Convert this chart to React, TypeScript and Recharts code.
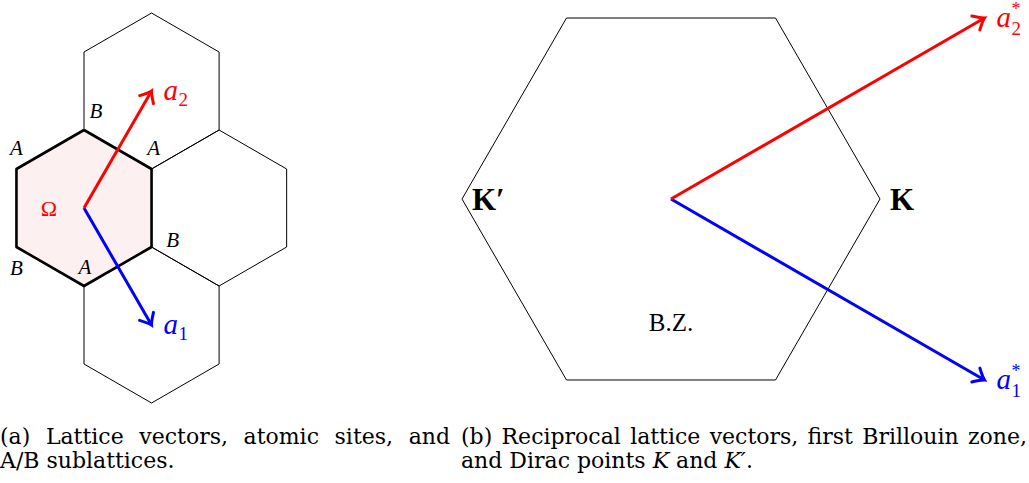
import React from 'react';
import { ComposedChart, Line, Area, Scatter, XAxis, YAxis } from 'recharts';

// unit: hexagon circumradius (left) / distance Γ→K (right)
const POINTY_HEX = [[0, 1], [0.866, 0.5], [0.866, -0.5], [0, -1], [-0.866, -0.5], [-0.866, 0.5]];
const CENTRAL_CELL = [0, 0];
const NEIGHBOUR_CELLS = [[0.866, 1.5], [1.732, 0], [0.866, -1.5]];
const SITE_TYPES = ['B', 'A', 'B', 'A', 'B', 'A'];
const LATTICE_VECTORS = [
  { name: '1', x: 0.866, y: -1.5 },
  { name: '2', x: 0.866, y: 1.5 },
];

const FLAT_HEX = [[1, 0], [0.5, 0.866], [-0.5, 0.866], [-1, 0], [-0.5, -0.866], [0.5, -0.866]];
const RECIPROCAL_VECTORS = [
  { name: '1', x: 1.5, y: -0.866 },
  { name: '2', x: 1.5, y: 0.866 },
];
const DIRAC_POINTS = [
  { name: 'K', x: 1, y: 0 },
  { name: 'K′', x: -1, y: 0 },
];
const ZONE_LABEL = [{ name: 'B.Z.', x: 0, y: -0.59 }];

const CAPTION_A = ['(a) Lattice vectors, atomic sites, and', 'A/B sublattices.'];
const CAPTION_B = ['(b) Reciprocal lattice vectors, first Brillouin zone,', 'and Dirac points '];

// pixel offsets of site letters from their corner
const SITE_OFFSETS = [[12, -19], [2, -21], [21, -7], [1, -19], [0, 21], [0, -21]];

const SERIF = '"Liberation Serif", "DejaVu Serif", serif';
const CAPTION_FONT = '"DejaVu Serif", "Liberation Serif", serif';
const RED = '#ff0000';
const BLUE = '#0000ff';

const polygon = (center: number[], corners: number[][]) =>
  [...corners, corners[0]].map(([dx, dy]) => ({ x: center[0] + dx, y: center[1] + dy }));

const arrowDot = (vx: number, vy: number, color: string) => (props: any) => {
  const { cx, cy, index } = props;
  if (index !== 1) return <g key={`d${index}`} />;
  const angle = (Math.atan2(-vy, vx) * 180) / Math.PI;
  return (
    <path
      key={`d${index}`}
      d="M -10 -8 Q -3 -1.5 0 0 Q -3 1.5 -10 8"
      transform={`translate(${cx},${cy}) rotate(${angle})`}
      fill="none"
      stroke={color}
      strokeWidth={3}
      strokeLinecap="round"
    />
  );
};

const vecLabel = (color: string, star: boolean) => (p: any) => {
  const x = p.cx + 12;
  const y = p.cy;
  return (
    <g>
      <text x={x} y={y + 9} fill={color} fontFamily={SERIF} fontStyle="italic" fontSize={29}>a</text>
      {star && <text x={x + 15} y={y - 3} fill={color} fontFamily={SERIF} fontSize={18}>*</text>}
      <text x={x + 15} y={y + (star ? 17 : 15)} fill={color} fontFamily={SERIF} fontSize={19}>
        {p.payload.name}
      </text>
    </g>
  );
};

function LatticePanel() {
  const scale = 78;
  const ox = 84;
  const oy = 208;
  const width = 300;
  const height = 410;
  const fill = [
    { x: POINTY_HEX[5][0], y: [POINTY_HEX[4][1], POINTY_HEX[5][1]] },
    { x: POINTY_HEX[0][0], y: [POINTY_HEX[3][1], POINTY_HEX[0][1]] },
    { x: POINTY_HEX[1][0], y: [POINTY_HEX[2][1], POINTY_HEX[1][1]] },
  ];
  const sites = POINTY_HEX.map(([x, y], i) => ({ x, y, site: SITE_TYPES[i], i }));
  const origin = [{ x: CENTRAL_CELL[0], y: CENTRAL_CELL[1] }];

  return (
    <ComposedChart
      width={width}
      height={height}
      margin={{ top: 0, right: 0, bottom: 0, left: 0 }}
      style={{ position: 'absolute', left: 0, top: 0 }}
    >
      <XAxis type="number" dataKey="x" hide domain={[-ox / scale, (width - ox) / scale]} allowDataOverflow />
      <YAxis type="number" dataKey="y" hide domain={[(oy - height) / scale, oy / scale]} allowDataOverflow />
      <Area data={fill} dataKey="y" type="linear" fill="#fdf0f0" fillOpacity={1} stroke="none" isAnimationActive={false} activeDot={false} />
      {NEIGHBOUR_CELLS.map((c, i) => (
        <Line key={`n${i}`} data={polygon(c, POINTY_HEX)} dataKey="y" type="linear" stroke="#000" strokeWidth={1} dot={false} activeDot={false} isAnimationActive={false} />
      ))}
      <Line data={polygon(CENTRAL_CELL, POINTY_HEX)} dataKey="y" type="linear" stroke="#000" strokeWidth={2.6} strokeLinejoin="round" dot={false} activeDot={false} isAnimationActive={false} />
      {LATTICE_VECTORS.map((v) => {
        const color = v.name === '1' ? BLUE : RED;
        return (
          <Line key={`v${v.name}`} data={[{ x: 0, y: 0 }, { x: v.x, y: v.y }]} dataKey="y" type="linear" stroke={color} strokeWidth={3} dot={arrowDot(v.x, v.y, color)} activeDot={false} isAnimationActive={false} />
        );
      })}
      {LATTICE_VECTORS.map((v) => (
        <Scatter key={`l${v.name}`} data={[v]} isAnimationActive={false} shape={vecLabel(v.name === '1' ? BLUE : RED, false)} />
      ))}
      <Scatter
        data={sites}
        isAnimationActive={false}
        shape={(p: any) => (
          <text
            x={p.cx + SITE_OFFSETS[p.payload.i][0]}
            y={p.cy + SITE_OFFSETS[p.payload.i][1]}
            textAnchor="middle"
            dominantBaseline="central"
            fontFamily={SERIF}
            fontStyle="italic"
            fontSize={21}
            fill="#000"
          >
            {p.payload.site}
          </text>
        )}
      />
      <Scatter
        data={origin}
        isAnimationActive={false}
        shape={(p: any) => (
          <text x={p.cx - 27} y={p.cy} textAnchor="end" dominantBaseline="central" fontFamily={SERIF} fontSize={22} fill={RED}>
            Ω
          </text>
        )}
      />
    </ComposedChart>
  );
}

function ZonePanel() {
  const scale = 209;
  const left = 430;
  const ox = 671 - left;
  const oy = 199;
  const width = 599;
  const height = 410;

  return (
    <ComposedChart
      width={width}
      height={height}
      margin={{ top: 0, right: 0, bottom: 0, left: 0 }}
      style={{ position: 'absolute', left, top: 0 }}
    >
      <XAxis type="number" dataKey="x" hide domain={[-ox / scale, (width - ox) / scale]} allowDataOverflow />
      <YAxis type="number" dataKey="y" hide domain={[(oy - height) / scale, oy / scale]} allowDataOverflow />
      <Line data={polygon([0, 0], FLAT_HEX)} dataKey="y" type="linear" stroke="#000" strokeWidth={1} dot={false} activeDot={false} isAnimationActive={false} />
      {RECIPROCAL_VECTORS.map((v) => {
        const color = v.name === '1' ? BLUE : RED;
        return (
          <Line key={`v${v.name}`} data={[{ x: 0, y: 0 }, { x: v.x, y: v.y }]} dataKey="y" type="linear" stroke={color} strokeWidth={3} dot={arrowDot(v.x, v.y, color)} activeDot={false} isAnimationActive={false} />
        );
      })}
      {RECIPROCAL_VECTORS.map((v) => (
        <Scatter key={`l${v.name}`} data={[v]} isAnimationActive={false} shape={vecLabel(v.name === '1' ? BLUE : RED, true)} />
      ))}
      <Scatter
        data={DIRAC_POINTS}
        isAnimationActive={false}
        shape={(p: any) => (
          <text x={p.cx + 10} y={p.cy} dominantBaseline="central" fontFamily={SERIF} fontWeight="bold" fontSize={31} fill="#000">
            {p.payload.name}
          </text>
        )}
      />
      <Scatter
        data={ZONE_LABEL}
        isAnimationActive={false}
        shape={(p: any) => (
          <text x={p.cx} y={p.cy} textAnchor="middle" dominantBaseline="central" fontFamily={SERIF} fontSize={25} fill="#000">
            {p.payload.name}
          </text>
        )}
      />
    </ComposedChart>
  );
}

const captionStyle: React.CSSProperties = {
  position: 'absolute',
  fontFamily: CAPTION_FONT,
  fontSize: 22,
  lineHeight: '24px',
  color: '#000',
};

export default function App() {
  return (
    <div style={{ position: 'absolute', left: 0, top: 0, width: 1029, height: 483, background: '#fff' }}>
      <LatticePanel />
      <ZonePanel />
      <div style={{ ...captionStyle, left: 0, top: 425, width: 450 }}>
        <div style={{ textAlign: 'justify', textAlignLast: 'justify' }}>{CAPTION_A[0]}</div>
        <div>{CAPTION_A[1]}</div>
      </div>
      <div style={{ ...captionStyle, left: 461, top: 425, width: 566 }}>
        <div style={{ textAlign: 'justify', textAlignLast: 'justify' }}>{CAPTION_B[0]}</div>
        <div>
          {CAPTION_B[1]}
          <i>K</i> and <i>K′</i>.
        </div>
      </div>
    </div>
  );
}
